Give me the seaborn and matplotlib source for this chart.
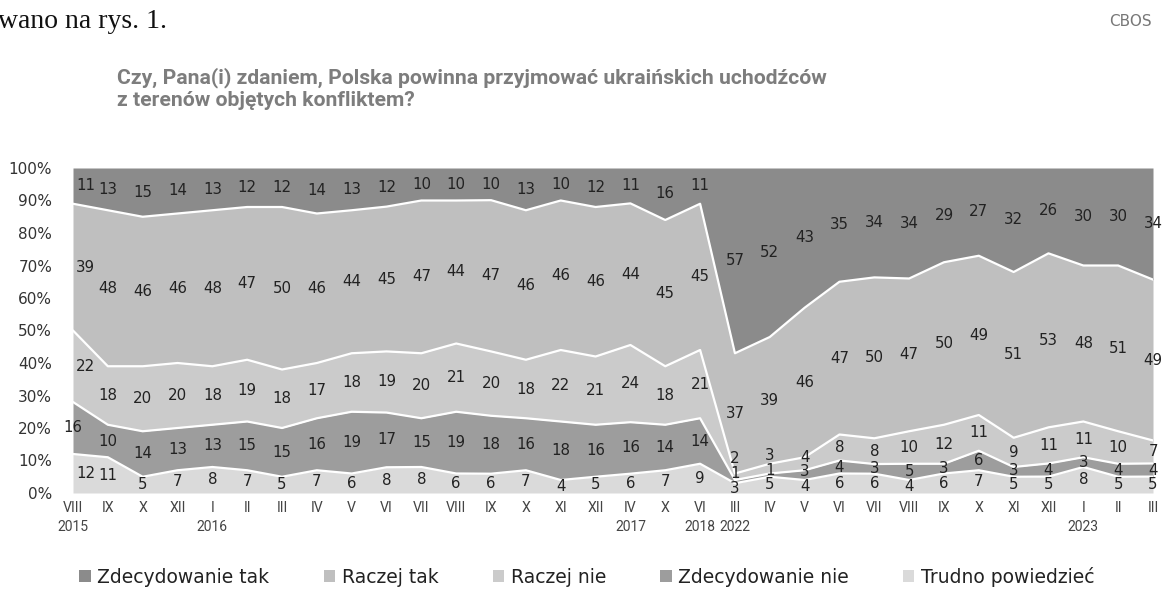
import numpy as np
import pandas as pd
import matplotlib
matplotlib.use("Agg")
import matplotlib.pyplot as plt
import seaborn as sns
from matplotlib.patches import Patch

# ---------------- data ----------------
months = ["VIII", "IX", "X", "XII", "I", "II", "III", "IV", "V", "VI", "VII", "VIII",
          "IX", "X", "XI", "XII", "IV", "X", "VI", "III", "IV", "V", "VI", "VII",
          "VIII", "IX", "X", "XI", "XII", "I", "II", "III"]
year_pos = [0, 4, 16, 18, 19, 29]
years = ["2015", "2016", "2017", "2018", "2022", "2023"]

zdecydowanie_tak = [11, 13, 15, 14, 13, 12, 12, 14, 13, 12, 10, 10, 10, 13, 10, 12, 11, 16, 11,
                    57, 52, 43, 35, 34, 34, 29, 27, 32, 26, 30, 30, 34]
raczej_tak = [39, 48, 46, 46, 48, 47, 50, 46, 44, 45, 47, 44, 47, 46, 46, 46, 44, 45, 45,
              37, 39, 46, 47, 50, 47, 50, 49, 51, 53, 48, 51, 49]
raczej_nie = [22, 18, 20, 20, 18, 19, 18, 17, 18, 19, 20, 21, 20, 18, 22, 21, 24, 18, 21,
              2, 3, 4, 8, 8, 10, 12, 11, 9, 11, 11, 10, 7]
zdecydowanie_nie = [16, 10, 14, 13, 13, 15, 15, 16, 19, 17, 15, 19, 18, 16, 18, 16, 16, 14, 14,
                    1, 1, 3, 4, 3, 5, 3, 6, 3, 4, 3, 4, 4]
trudno = [12, 11, 5, 7, 8, 7, 5, 7, 6, 8, 8, 6, 6, 7, 4, 5, 6, 7, 9,
          3, 5, 4, 6, 6, 4, 6, 7, 5, 5, 8, 5, 5]

series_names = ["Zdecydowanie tak", "Raczej tak", "Raczej nie", "Zdecydowanie nie", "Trudno powiedzieć"]
series_vals = [zdecydowanie_tak, raczej_tak, raczej_nie, zdecydowanie_nie, trudno]
colors = ["#8b8b8b", "#bfbfbf", "#cbcbcb", "#9d9d9d", "#dadada"]

# ---------------- prepare ----------------
x = np.arange(len(months))
vals = np.array(series_vals, dtype=float)
pct = vals / vals.sum(axis=0) * 100
# stacking order bottom -> top
order = [4, 3, 2, 1, 0]
stack = pct[order]
cum = np.cumsum(stack, axis=0)

sns.set_theme(style="white")
plt.rcParams['font.family'] = ['DejaVu Sans']

fig = plt.figure(figsize=(11.64, 5.94), dpi=100)
ax = fig.add_axes([73 / 1164, 1 - 493 / 594, 1080 / 1164, 325 / 594])

ax.stackplot(x, *stack, colors=[colors[i] for i in order], linewidth=0)

# white boundaries between layers
for k in range(len(order) - 1):
    df = pd.DataFrame({"x": x, "y": cum[k]})
    sns.lineplot(data=df, x="x", y="y", ax=ax, color="white", linewidth=1.6)

# value labels in the middle of each band, pushed apart where bands are thin
min_gap = 4.5
label_y = np.zeros_like(stack)
for k in range(len(order)):
    mid = cum[k] - stack[k] / 2
    if k == 0:
        label_y[k] = mid
    else:
        label_y[k] = np.maximum(mid, label_y[k - 1] + min_gap)

for k, si in enumerate(order):
    for i in x:
        dx = 0
        if i == 0 and si != 3:
            dx = 9
        ax.annotate(str(series_vals[si][i]), (i, label_y[k][i]), xytext=(dx, 0),
                    textcoords="offset points", ha="center", va="center",
                    fontsize=10.8, color="#222222")

ax.set_xlim(0, len(months) - 1)
ax.set_ylim(0, 100)
ax.set_yticks(np.arange(0, 101, 10))
ax.set_yticklabels([f"{v}%" for v in range(0, 101, 10)])
ax.set_xticks(x)
ax.set_xticklabels(months, family="Roboto")
ax.tick_params(axis="y", length=0, pad=15, labelsize=11, labelcolor="#333333")
ax.tick_params(axis="x", length=0, pad=6, labelsize=10.2, labelcolor="#444444")
ax.set_xlabel("")
ax.set_ylabel("")
for s in ax.spines.values():
    s.set_visible(False)

trans = ax.get_xaxis_transform()
for p, yr in zip(year_pos, years):
    ax.text(p, -34 / 325, yr, transform=trans, ha="center", va="center",
            fontsize=10, color="#444444", family="Roboto")

# title & texts
fig.text(117 / 1164, 1 - 67 / 594,
         "Czy, Pana(i) zdaniem, Polska powinna przyjmować ukraińskich uchodźców\nz terenów objętych konfliktem?",
         ha="left", va="top", fontsize=15.2, fontweight="bold", color="#7d7d7d",
         family="Roboto", linespacing=1.2)
fig.text(-0.002, 1 - 21 / 594, "wano na rys. 1.", ha="left", va="center",
         fontsize=20, family="Liberation Serif", color="#111111")
fig.text(1152 / 1164, 1 - 22 / 594, "CBOS", ha="right", va="center",
         fontsize=11, color="#777777")

handles = [Patch(facecolor=c, edgecolor="none") for c in colors]
fig.legend(handles, series_names, loc="center", bbox_to_anchor=(587 / 1164, 1 - 577 / 594),
           ncol=5, frameon=False, handlelength=0.6, handleheight=0.6,
           handletextpad=0.35, columnspacing=2.9, fontsize=13.5, labelcolor="#222222")

fig.savefig("out.png", dpi=100, facecolor="white")
